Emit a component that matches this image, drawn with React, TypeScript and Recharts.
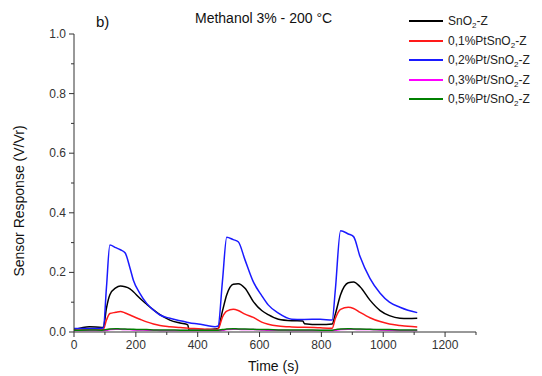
import React from 'react';
import { LineChart, Line, XAxis, YAxis } from 'recharts';

const time = [0, 50, 90, 95, 105, 116, 135, 150, 165, 181, 192, 213, 235, 257, 278, 310, 343, 368, 372, 402, 430, 456, 466, 480, 494, 515, 531, 553, 580, 607, 628, 661, 704, 740, 745, 796, 835, 845, 862, 887, 904, 925, 957, 990, 1020, 1054, 1080, 1110];

const sno2 = [0.008, 0.018, 0.015, 0.016, 0.08, 0.125, 0.148, 0.154, 0.152, 0.145, 0.135, 0.113, 0.093, 0.074, 0.058, 0.040, 0.030, 0.024, 0.006, 0.006, 0.008, 0.010, 0.012, 0.07, 0.125, 0.160, 0.162, 0.147, 0.102, 0.072, 0.058, 0.043, 0.038, 0.037, 0.028, 0.025, 0.027, 0.06, 0.125, 0.165, 0.168, 0.152, 0.107, 0.072, 0.055, 0.046, 0.045, 0.046];

const pt01 = [0.006, 0.008, 0.008, 0.009, 0.04, 0.062, 0.066, 0.069, 0.064, 0.057, 0.052, 0.043, 0.034, 0.027, 0.022, 0.018, 0.015, 0.013, 0.012, 0.011, 0.009, 0.008, 0.010, 0.050, 0.070, 0.076, 0.072, 0.060, 0.049, 0.033, 0.026, 0.020, 0.017, 0.016, 0.016, 0.014, 0.013, 0.045, 0.076, 0.083, 0.079, 0.066, 0.048, 0.035, 0.027, 0.022, 0.019, 0.017];

const pt02 = [0.012, 0.012, 0.013, 0.014, 0.15, 0.292, 0.283, 0.276, 0.266, 0.215, 0.174, 0.130, 0.096, 0.074, 0.057, 0.046, 0.038, 0.032, 0.031, 0.027, 0.022, 0.018, 0.020, 0.17, 0.318, 0.310, 0.303, 0.242, 0.168, 0.122, 0.091, 0.063, 0.043, 0.042, 0.042, 0.043, 0.040, 0.14, 0.340, 0.329, 0.320, 0.253, 0.180, 0.130, 0.100, 0.083, 0.073, 0.065];

const pt03 = [0.005, 0.005, 0.005, 0.005, 0.006, 0.008, 0.009, 0.009, 0.008, 0.008, 0.007, 0.007, 0.006, 0.006, 0.005, 0.005, 0.005, 0.005, 0.005, 0.005, 0.005, 0.005, 0.005, 0.006, 0.008, 0.009, 0.009, 0.008, 0.008, 0.007, 0.006, 0.006, 0.005, 0.005, 0.005, 0.005, 0.005, 0.006, 0.008, 0.009, 0.009, 0.008, 0.008, 0.007, 0.006, 0.005, 0.005, 0.005];

const pt05 = [0.006, 0.007, 0.006, 0.007, 0.008, 0.010, 0.011, 0.010, 0.010, 0.009, 0.009, 0.008, 0.008, 0.007, 0.007, 0.007, 0.006, 0.006, 0.006, 0.006, 0.006, 0.006, 0.006, 0.008, 0.010, 0.011, 0.010, 0.010, 0.009, 0.008, 0.008, 0.007, 0.007, 0.007, 0.007, 0.006, 0.006, 0.008, 0.010, 0.011, 0.010, 0.010, 0.009, 0.008, 0.008, 0.007, 0.007, 0.007];

const xTicks = [0, 100, 200, 300, 400, 500, 600, 700, 800, 900, 1000, 1100, 1200, 1300];
const yTicks = [0, 0.1, 0.2, 0.3, 0.4, 0.5, 0.6, 0.7, 0.8, 0.9, 1.0];

const series = [
  { key: 'a', base: 'SnO', rest: '-Z', color: '#000000', values: sno2 },
  { key: 'b', base: '0,1%PtSnO', rest: '-Z', color: '#ff1a1a', values: pt01 },
  { key: 'c', base: '0,2%Pt/SnO', rest: '-Z', color: '#1a1aff', values: pt02 },
  { key: 'd', base: '0,3%Pt/SnO', rest: '-Z', color: '#ff00ff', values: pt03 },
  { key: 'e', base: '0,5%Pt/SnO', rest: '-Z', color: '#008000', values: pt05 },
];

const legendRowY = [21, 41, 60, 80, 99];

const data = time.map((t, i) => {
  const row: Record<string, number> = { t };
  series.forEach((s) => { row[s.key] = s.values[i]; });
  return row;
});

const FONT = 'Liberation Sans, Arial, sans-serif';
const AXIS = '#333333';

const XTick = (props: any) => {
  const { x, y, payload } = props;
  const v = payload.value;
  const major = v % 200 === 0 && v <= 1200;
  return (
    <g>
      <line x1={x} x2={x} y1={y} y2={y + (major ? 5 : 3)} stroke={AXIS} strokeWidth={1} />
      {major && (
        <text x={x} y={y + 17} textAnchor="middle" fontSize={12} fill="#333" fontFamily={FONT}>{v}</text>
      )}
    </g>
  );
};

const YTick = (props: any) => {
  const { x, y, payload } = props;
  const v = payload.value;
  const idx = Math.round(v * 10);
  const major = idx % 2 === 0;
  return (
    <g>
      <line x1={x} x2={x - (major ? 5 : 3)} y1={y} y2={y} stroke={AXIS} strokeWidth={1} />
      {major && (
        <text x={x - 8} y={y + 4} textAnchor="end" fontSize={12} fill="#333" fontFamily={FONT}>{v.toFixed(1)}</text>
      )}
    </g>
  );
};

const LegendBox = () => (
  <div style={{ position: 'absolute', left: 0, top: 0, fontFamily: FONT, fontSize: 12, color: '#222' }}>
    {series.map((s, i) => (
      <div key={s.key} style={{ position: 'absolute', left: 409, top: legendRowY[i] - 10, height: 20, display: 'flex', alignItems: 'center' }}>
        <div style={{ width: 34, height: 2, background: s.color, marginRight: 5 }} />
        <span style={{ whiteSpace: 'nowrap' }}>
          {s.base}
          <sub style={{ fontSize: 8, verticalAlign: -3, lineHeight: 0 }}>2</sub>
          {s.rest}
        </span>
      </div>
    ))}
  </div>
);

export default function App() {
  return (
    <div style={{ position: 'absolute', left: 0, top: 0, width: 542, height: 376, background: '#fff' }}>
      <LineChart width={542} height={376} data={data} margin={{ top: 34, right: 66, bottom: 0, left: 0 }}>
        <XAxis
          dataKey="t"
          type="number"
          domain={[0, 1300]}
          ticks={xTicks}
          interval={0}
          height={44}
          tickSize={0}
          tickMargin={0}
          tickLine={false}
          tick={<XTick />}
          axisLine={{ stroke: AXIS, strokeWidth: 1 }}
        />
        <YAxis
          type="number"
          domain={[0, 1]}
          ticks={yTicks}
          interval={0}
          width={74}
          tickSize={0}
          tickMargin={0}
          tickLine={false}
          tick={<YTick />}
          axisLine={{ stroke: AXIS, strokeWidth: 1 }}
        />
        {series.map((s) => (
          <Line
            key={s.key}
            dataKey={s.key}
            stroke={s.color}
            strokeWidth={1.5}
            dot={false}
            type="monotone"
            isAnimationActive={false}
          />
        ))}
      </LineChart>
      <LegendBox />
      <div style={{ position: 'absolute', left: 96, top: 13, fontFamily: FONT, fontSize: 15, color: '#111' }}>b)</div>
      <div style={{ position: 'absolute', left: 195, top: 10, fontFamily: FONT, fontSize: 14, color: '#111', whiteSpace: 'nowrap' }}>Methanol 3% - 200 °C</div>
      <div style={{ position: 'absolute', left: 248, top: 358, fontFamily: FONT, fontSize: 14, color: '#111', whiteSpace: 'nowrap' }}>Time (s)</div>
      <div style={{ position: 'absolute', left: 19, top: 201, width: 0, height: 0 }}>
        <div style={{ position: 'absolute', transform: 'translate(-50%, -50%) rotate(-90deg)', fontFamily: FONT, fontSize: 14, color: '#111', whiteSpace: 'nowrap' }}>Sensor Response (V/Vr)</div>
      </div>
    </div>
  );
}
